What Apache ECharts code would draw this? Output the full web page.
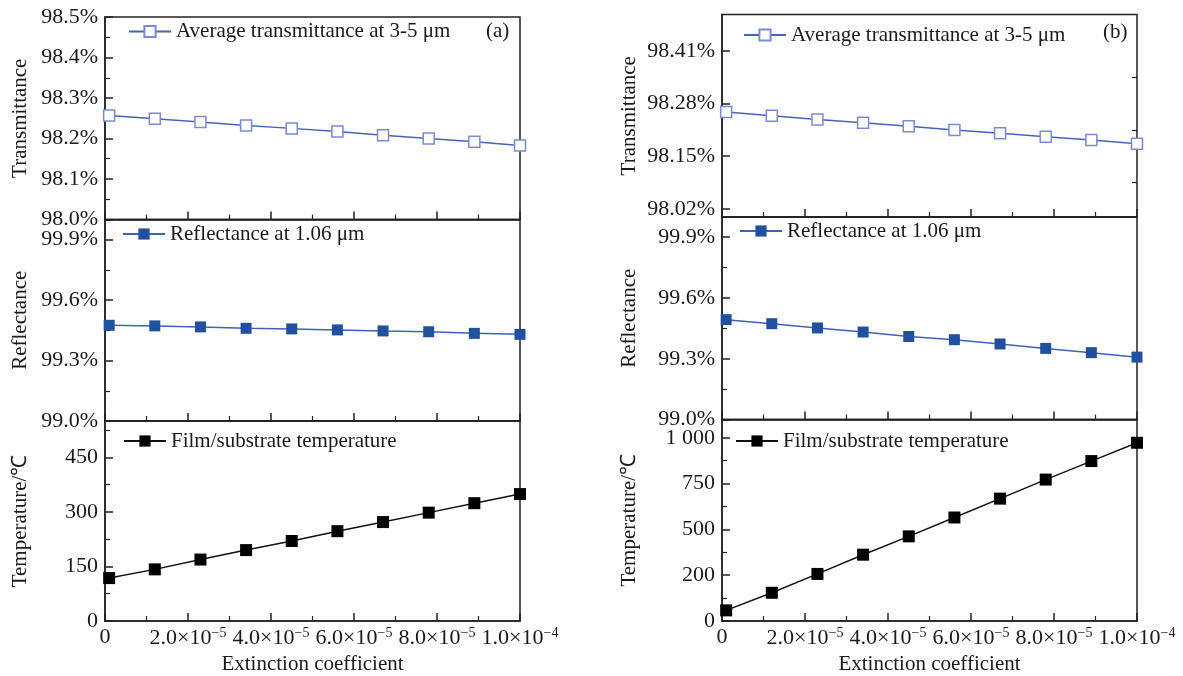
<!DOCTYPE html>
<html>
<head>
<meta charset="utf-8">
<script src="https://cdn.jsdelivr.net/npm/echarts@6/dist/echarts.min.js"></script>
<style>
  html, body { margin: 0; padding: 0; background: #fff; }
  #main { width: 1183px; height: 676px; }
</style>
</head>
<body>
<div id="main"></div>
<script>
// extinction coefficient of each point
var xs = [1e-6, 1.2e-5, 2.3e-5, 3.4e-5, 4.5e-5, 5.6e-5, 6.7e-5, 7.8e-5, 8.9e-5, 1.0e-4];
// panel (a)
var transA = [98.257, 98.249, 98.241, 98.232, 98.225, 98.217, 98.208, 98.200, 98.192, 98.183];
var reflA = [99.475, 99.472, 99.467, 99.460, 99.457, 99.452, 99.447, 99.443, 99.435, 99.430];
var tempA = [118, 142, 169, 195, 220, 247, 272, 298, 324, 349];
// panel (b)
var transB = [98.259, 98.250, 98.241, 98.233, 98.224, 98.215, 98.207, 98.198, 98.190, 98.181];
var reflB = [99.493, 99.473, 99.452, 99.432, 99.410, 99.394, 99.373, 99.351, 99.330, 99.308];
var tempB = [58, 154, 257, 362, 462, 565, 668, 772, 873, 973];

// tick labels
var xTickLabels = ['0', '2.0×10{s|−5}', '4.0×10{s|−5}', '6.0×10{s|−5}', '8.0×10{s|−5}', '1.0×10{s|−4}'];
var transTicksB = [98.02, 98.15, 98.28, 98.41];
var transMinorB = [98.085, 98.215, 98.345];
var tempTickLabelsB = ['0', '200', '500', '750', '1 000'];

var names = ['Average transmittance at 3-5 μm', 'Reflectance at 1.06 μm', 'Film/substrate temperature'];

var FONT = 'Liberation Serif';
var INK = '#1a1a1a';
var TICK_FS = 22;
var TEXT_FS = 21;

function pairs(vals) {
    return xs.map(function (x, i) { return [x, vals[i]]; });
}

var grids = [
    { left: 105, top: 17, width: 415, height: 202.5 },
    { left: 105, top: 219.5, width: 415, height: 201.5 },
    { left: 105, top: 421, width: 415, height: 202 },
    { left: 722, top: 14.5, width: 415, height: 202.5 },
    { left: 722, top: 217, width: 415, height: 202.5 },
    { left: 722, top: 419.5, width: 415, height: 203 }
];
grids.forEach(function (g) {
    g.show = true;
    g.borderColor = '#222';
    g.borderWidth = 1.5;
});

function xAxis(i, bottom) {
    return {
        type: 'value',
        gridIndex: i,
        min: 0,
        max: 1e-4,
        interval: 2e-5,
        name: bottom ? 'Extinction coefficient' : '',
        nameLocation: 'middle',
        nameGap: 33,
        nameTextStyle: { fontFamily: FONT, fontSize: TEXT_FS, color: INK },
        axisLine: { show: true, lineStyle: { color: '#222', width: 1.5 } },
        axisTick: { show: true, inside: true, length: 8, lineStyle: { color: '#222', width: 1.5 } },
        minorTick: { show: true, splitNumber: 2, length: 5, lineStyle: { color: '#222', width: 1.2 } },
        splitLine: { show: false },
        minorSplitLine: { show: false },
        axisLabel: {
            show: bottom,
            margin: 5,
            fontFamily: FONT,
            fontSize: TICK_FS,
            color: INK,
            formatter: function (v) {
                return xTickLabels[Math.round(v / 2e-5)] || '';
            },
            rich: {
                s: { fontFamily: FONT, fontSize: 14, color: INK, padding: [0, 0, 10, 0] }
            }
        }
    };
}

function yAxis(i, name, gap, opts) {
    var a = {
        type: 'value',
        gridIndex: i,
        name: name,
        nameLocation: 'middle',
        nameGap: gap,
        nameTextStyle: { fontFamily: FONT, fontSize: TEXT_FS, color: INK },
        axisLine: { show: true, lineStyle: { color: '#222', width: 1.5 } },
        axisTick: { show: true, inside: true, length: 8, lineStyle: { color: '#222', width: 1.5 } },
        minorTick: { show: true, splitNumber: 2, length: 5, lineStyle: { color: '#222', width: 1.2 } },
        splitLine: { show: false },
        minorSplitLine: { show: false },
        axisLabel: { margin: 7, fontFamily: FONT, fontSize: TICK_FS, color: INK, showMaxLabel: false }
    };
    for (var k in opts) {
        if (k === 'axisLabel' || k === 'axisTick' || k === 'minorTick') {
            for (var j in opts[k]) a[k][j] = opts[k][j];
        } else {
            a[k] = opts[k];
        }
    }
    return a;
}

function pct1(v) { return v.toFixed(1) + '%'; }

var yAxes = [
    yAxis(0, 'Transmittance', 74, { min: 98.0, max: 98.5, interval: 0.1, axisLabel: { formatter: pct1, showMaxLabel: true } }),
    yAxis(1, 'Reflectance', 74, { min: 99.0, max: 100.0, interval: 0.3, axisLabel: { formatter: pct1 } }),
    yAxis(2, 'Temperature/℃', 74, { min: 0, max: 550, interval: 150 }),
    yAxis(3, 'Transmittance', 82, {
        min: 98.0, max: 98.5,
        axisLabel: {
            customValues: transTicksB,
            showMaxLabel: true,
            showMinLabel: true,
            formatter: function (v) { return v.toFixed(2) + '%'; }
        },
        axisTick: { customValues: transTicksB },
        minorTick: { show: false }
    }),
    yAxis(4, 'Reflectance', 82, { min: 99.0, max: 100.0, interval: 0.3, axisLabel: { formatter: pct1 } }),
    yAxis(5, 'Temperature/℃', 82, {
        min: 0, max: 1100, interval: 250,
        axisLabel: { formatter: function (v) { return tempTickLabelsB[Math.round(v / 250)] || ''; } }
    }),
    // minor ticks for (b) transmittance
    {
        type: 'value', gridIndex: 3, min: 98.0, max: 98.5,
        axisLine: { show: false },
        axisLabel: { show: false },
        splitLine: { show: false },
        axisTick: { show: true, inside: true, length: 5, customValues: transMinorB, lineStyle: { color: '#222', width: 1.2 } }
    }
];

var xAxes = [0, 1, 2, 3, 4, 5].map(function (i) { return xAxis(i, i === 2 || i === 5); });

function transSeries(i, vals) {
    return {
        name: names[0], type: 'line', xAxisIndex: i, yAxisIndex: i,
        data: pairs(vals),
        symbol: 'rect', symbolSize: 11,
        itemStyle: { color: '#fff', borderColor: '#7c8bd0', borderWidth: 1.5 },
        lineStyle: { color: '#4865b4', width: 1.5 },
        emphasis: { disabled: true }
    };
}
function reflSeries(i, vals) {
    return {
        name: names[1], type: 'line', xAxisIndex: i, yAxisIndex: i,
        data: pairs(vals),
        symbol: 'rect', symbolSize: 11,
        itemStyle: { color: '#21509f', borderColor: '#21509f', borderWidth: 0 },
        lineStyle: { color: '#3f62b3', width: 1.5 },
        emphasis: { disabled: true }
    };
}
function tempSeries(i, vals) {
    return {
        name: names[2], type: 'line', xAxisIndex: i, yAxisIndex: i,
        data: pairs(vals),
        symbol: 'rect', symbolSize: 12,
        itemStyle: { color: '#000', borderWidth: 0 },
        lineStyle: { color: '#111', width: 1.5 },
        emphasis: { disabled: true }
    };
}

function legend(name, left, top) {
    return {
        data: [name], left: left, top: top,
        itemWidth: 42, itemHeight: 14, itemGap: 0,
        padding: 0,
        selectedMode: false,
        textStyle: { fontFamily: FONT, fontSize: TEXT_FS, color: INK }
    };
}

var myChart = echarts.init(document.getElementById('main'), null, { renderer: 'canvas' });
var option = {
    animation: false,
    backgroundColor: '#fff',
    grid: grids,
    xAxis: xAxes,
    yAxis: yAxes,
    legend: [
        legend(names[0], 128, 21),
        legend(names[1], 122, 223.5),
        legend(names[2], 123, 430.5),
        legend(names[0], 743, 24.5),
        legend(names[1], 739, 220.5),
        legend(names[2], 735, 430.5)
    ],
    graphic: [
        { type: 'text', left: 486, top: 21, style: { text: '(a)', font: TEXT_FS + 'px "Liberation Serif"', fill: INK } },
        { type: 'text', left: 1103, top: 22, style: { text: '(b)', font: TEXT_FS + 'px "Liberation Serif"', fill: INK } }
    ],
    series: [
        transSeries(0, transA),
        reflSeries(1, reflA),
        tempSeries(2, tempA),
        transSeries(3, transB),
        reflSeries(4, reflB),
        tempSeries(5, tempB)
    ]
};
myChart.setOption(option);
</script>
</body>
</html>
